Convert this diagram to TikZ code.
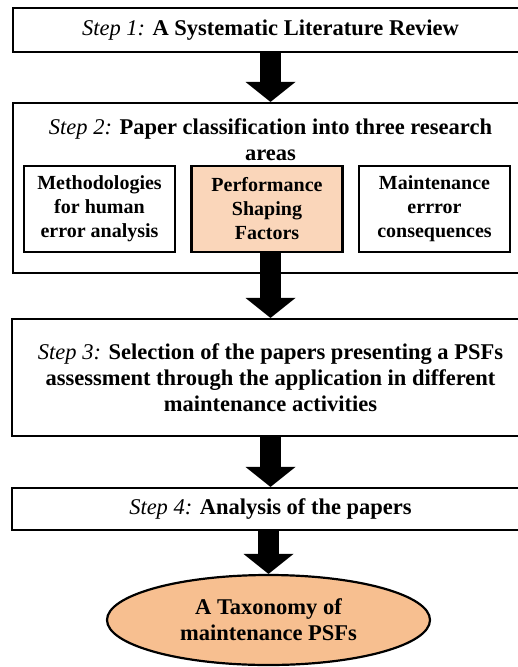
\documentclass[tikz,border=0pt]{standalone}
\usepackage{fontspec}
\setmainfont{Liberation Serif}
\usetikzlibrary{shapes.geometric, arrows.meta, positioning}
\definecolor{psfpeach}{RGB}{250,214,186}
\definecolor{goalpeach}{RGB}{247,191,144}

\begin{document}
\begin{tikzpicture}[x=1pt, y=-1pt,
    stepbox/.style={rectangle, draw=black, line width=2.2pt, minimum width=515pt,
                    align=center, font=\fontsize{22.5}{26}\selectfont\bfseries},
    area/.style={rectangle, draw=black, line width=2.2pt, minimum width=151pt, minimum height=86pt,
                 align=center, font=\fontsize{20}{24}\selectfont\bfseries},
    goal/.style={ellipse, draw=black, line width=2.2pt, fill=goalpeach, minimum width=323pt,
                 minimum height=90pt, align=center, font=\fontsize{22.5}{26}\selectfont\bfseries},
    arrow/.style={line width=21pt, -{Triangle[width=50pt, length=20pt, line width=0pt]}}]

    \useasboundingbox (0,0) rectangle (517,667);

    % Nodes
    \node[stepbox, minimum height=44pt] (step1) at (270.5,30) {\textit{\mdseries Step 1:} A Systematic Literature Review};
    \node[stepbox, minimum height=170pt] (step2) at (270.5,188) {};
    \node[align=center, font=\fontsize{22.5}{26}\selectfont\bfseries] (title2) at (270.5,140)
        {\textit{\mdseries Step 2:} Paper classification into three research\\areas};
    \node[area] (methods) at (99.5,209) {Methodologies\\for human\\error analysis};
    \node[area, fill=psfpeach] (psf) at (267,209) {Performance\\Shaping\\Factors};
    \node[area] (conseq) at (434.5,209) {Maintenance\\errror\\consequences};
    \node[stepbox, minimum height=117pt, minimum width=517pt] (step3) at (270.5,377.5)
        {\textit{\mdseries Step 3:} Selection of the papers presenting a PSFs\\assessment through the application in different\\maintenance activities};
    \node[stepbox, minimum height=42pt, minimum width=517pt] (step4) at (270.5,509) {\textit{\mdseries Step 4:} Analysis of the papers};
    \node[goal] (taxonomy) at (268.5,620) {A Taxonomy of\\maintenance PSFs};

    % Arrows
    \draw[arrow] (step1) -- (step2);
    \draw[arrow] (psf.south -| step3.north) -- (step3);
    \draw[arrow] (step3) -- (step4);
    \draw[arrow] (step4.south -| taxonomy.north) -- (taxonomy);

\end{tikzpicture}
\end{document}
